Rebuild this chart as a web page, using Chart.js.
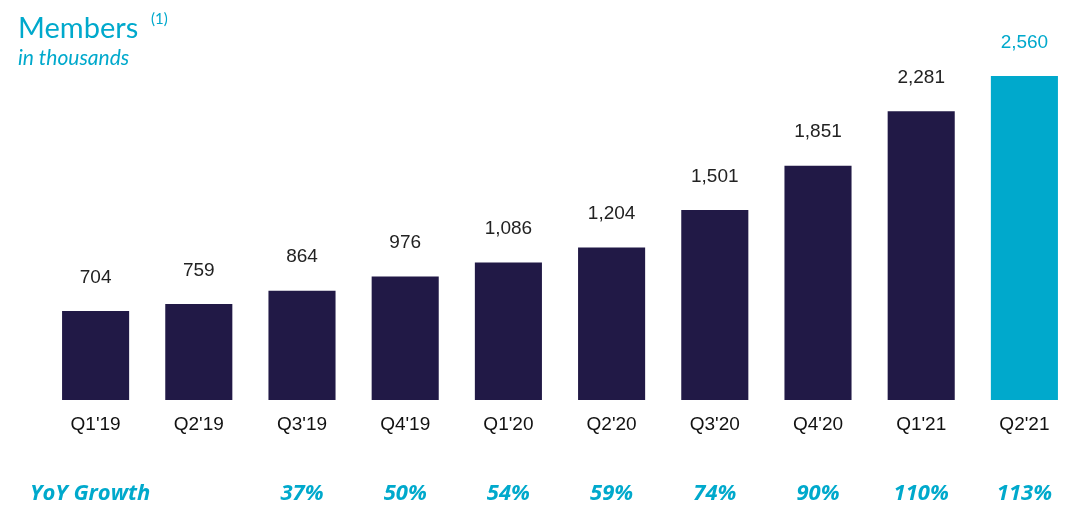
<!DOCTYPE html>
<html><head><meta charset="utf-8">
<script src="https://cdn.jsdelivr.net/npm/chart.js@4/dist/chart.umd.min.js"></script>
<style>html,body{margin:0;padding:0;background:#fff}#w{position:relative;width:1080px;height:516px}</style>
</head><body><div id="w"><canvas id="c" width="1080" height="516"></canvas></div>
<script>
const categories=["Q1'19","Q2'19","Q3'19","Q4'19","Q1'20","Q2'20","Q3'20","Q4'20","Q1'21","Q2'21"];
const members=[704,759,864,976,1086,1204,1501,1851,2281,2560];
const yoyGrowth=["","","37%","50%","54%","59%","74%","90%","110%","113%"];
const DARK="#211946", CYAN="#00a9cc";
const labels={id:'lbl',afterDatasetsDraw(ch){
  const c=ch.ctx, m=ch.getDatasetMeta(0);
  c.save();c.textAlign='center';
  m.data.forEach((b,i)=>{
    c.font='19px "Liberation Sans", Arial';
    c.fillStyle=i===9?CYAN:'#222';
    c.textBaseline='bottom';
    c.fillText(members[i].toLocaleString('en-US'),b.x,b.y-24);
    c.fillStyle='#111';c.textBaseline='middle';
    c.fillText(categories[i],b.x,425);
    if(yoyGrowth[i]){c.font='italic bold 22px "Open Sans"';c.fillStyle=CYAN;c.fillText(yoyGrowth[i],b.x,494);}
  });
  c.textAlign='left';c.font='italic bold 22px "Open Sans"';c.fillStyle=CYAN;c.textBaseline='middle';
  c.fillText('YoY Growth',30,494);
  c.font='29px Lato';c.textBaseline='alphabetic';c.fillText('Members',18,38);
  c.font='15px Lato';c.fillText('(1)',151,24);
  c.font='italic 21px Lato';c.fillText('in thousands',18,65);
  c.restore();}};
new Chart(document.getElementById('c'),{type:'bar',
 data:{labels:categories,datasets:[{data:members,backgroundColor:members.map((v,i)=>i===9?CYAN:DARK),categoryPercentage:1,barPercentage:0.65}]},
 options:{responsive:false,animation:false,layout:{padding:{left:44,right:4,top:76,bottom:116}},
  plugins:{legend:{display:false},tooltip:{enabled:false}},
  scales:{x:{display:false},y:{display:false,min:0,max:2560}}},
 plugins:[labels]});
</script></body></html>
